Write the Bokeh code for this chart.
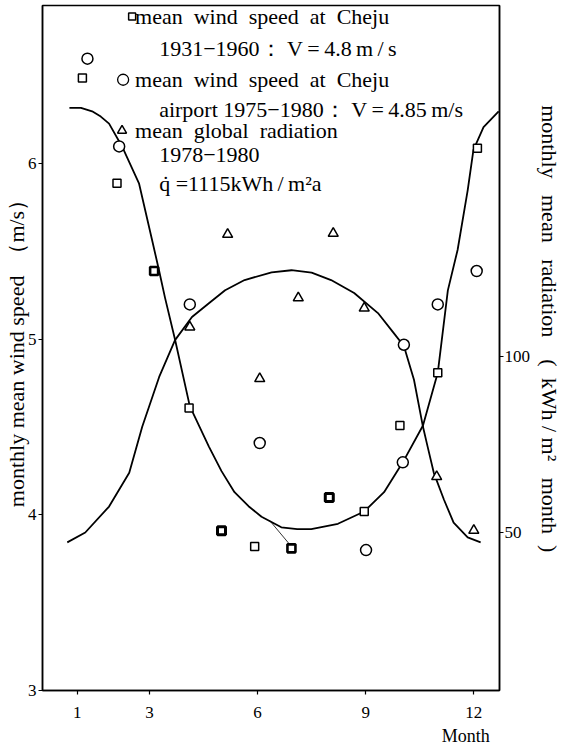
from bokeh.plotting import figure
from bokeh.models import Range1d, LinearAxis, FixedTicker
from bokeh.embed import file_html
from bokeh.resources import INLINE
from bokeh.models import Label

# ---- data ----
# mean wind speed at Cheju 1931-1960 (squares)
sq_month = [1.14, 2.1, 3.13, 4.1, 5.0, 5.92, 6.94, 7.99, 8.96, 9.95, 11.0, 12.1]
sq_wind = [6.49, 5.89, 5.39, 4.61, 3.91, 3.82, 3.81, 4.10, 4.02, 4.51, 4.81, 6.09]
sq_bold = [1.5, 1.5, 2.6, 1.5, 3.0, 1.5, 2.6, 3.0, 1.5, 1.5, 1.5, 1.5]

# mean wind speed at Cheju airport 1975-1980 (circles)
ci_month = [1.28, 2.16, 4.12, 6.06, 9.01, 10.06, 10.03, 11.0, 12.08]
ci_wind = [6.60, 6.10, 5.20, 4.41, 3.80, 4.97, 4.30, 5.20, 5.39]

# mean global radiation 1978-1980 (triangles, right axis)
tr_month = [4.12, 5.17, 6.06, 7.13, 8.1, 8.96, 10.97, 12.0]
tr_rad = [108.5, 134.9, 93.8, 116.8, 135.2, 113.9, 65.9, 50.6]

# fitted wind-speed curve
wc_month = [0.78, 1.1, 1.41, 1.65, 1.88, 2.24, 2.71, 3.07, 3.27, 3.43, 3.71, 4.12, 4.65,
            5.0, 5.36, 5.75, 6.11, 6.66, 7.1, 7.49, 8.23, 8.96, 9.51, 10.03, 10.59,
            11.0, 11.28, 11.55, 11.83, 11.99, 12.27, 12.69]
wc_wind = [6.32, 6.32, 6.30, 6.27, 6.23, 6.10, 5.89, 5.57, 5.39, 5.24, 5.00, 4.62, 4.39,
           4.25, 4.13, 4.05, 3.99, 3.93, 3.92, 3.92, 3.95, 4.02, 4.13, 4.30, 4.51,
           4.81, 5.28, 5.51, 5.85, 6.08, 6.21, 6.30]

# fitted radiation curve (right axis)
rc_month = [0.72, 1.22, 1.88, 2.44, 2.80, 3.27, 3.71, 4.18, 4.65, 5.1, 5.64, 6.39, 6.94,
            7.5, 8.04, 8.68, 9.34, 9.78, 10.06, 10.34, 10.59, 10.72, 10.89, 11.17, 11.44,
            11.83, 12.19]
rc_rad = [47.2, 50.0, 57.4, 67.0, 80.1, 94.3, 104.8, 111.4, 115.3, 119.0, 121.9, 124.1, 124.7,
          124.0, 121.9, 118.2, 112.5, 106.8, 103.1, 93.5, 80.1, 74.4, 67.0, 59.4, 52.8,
          48.6, 47.2]

# leader stroke from the curve to the July square
lead_month = [6.33, 6.86]
lead_wind = [3.97, 3.84]

x_ticks = [1, 3, 6, 9, 12]
left_ticks = [3, 4, 5, 6]
right_ticks = [50, 100]
x_title_pos = 11.78
x_title = "Month"

SERIF = "Liberation Serif"
NB = "\u00a0"
TH = "\u2009"

p = figure(width=565, height=748, x_range=Range1d(0.033, 12.713), y_range=Range1d(3, 6.903),
           output_backend="svg", toolbar_location=None,
           min_border_left=32, min_border_right=63, min_border_top=5, min_border_bottom=56)
p.extra_y_ranges = {"rad": Range1d(5, 200.1)}
p.xgrid.visible = False
p.ygrid.visible = False
p.outline_line_color = "black"
p.outline_line_width = 1.5
p.background_fill_color = "white"
p.border_fill_color = "white"

rax = LinearAxis(y_range_name="rad", ticker=FixedTicker(ticks=right_ticks))
p.add_layout(rax, "right")

# axes styling
for ax in (p.xaxis[0], p.yaxis[0], rax):
    ax.axis_line_width = 1.5
    ax.axis_line_color = "black"
    ax.major_tick_line_width = 1.2
    ax.major_tick_line_color = "black"
    ax.major_tick_in = 0
    ax.major_tick_out = 4
    ax.minor_tick_line_color = None
    ax.major_label_text_font = SERIF
    ax.major_label_text_font_size = "17px"
    ax.major_label_text_color = "black"
    ax.axis_label_text_font = SERIF
    ax.axis_label_text_font_style = "normal"
    ax.axis_label_text_color = "black"
    ax.axis_label_text_font_size = "22px"

p.xaxis[0].ticker = FixedTicker(ticks=x_ticks)
p.xaxis[0].major_label_standoff = 12
p.yaxis[0].ticker = FixedTicker(ticks=left_ticks)
p.yaxis[0].major_label_standoff = 2
p.yaxis[0].axis_label = ("monthly" + NB + "mean" + NB + "wind" + NB + "speed"
                         + NB * 2 + "（m/s）")
p.yaxis[0].axis_label_standoff = -4

rax.major_label_standoff = 1
rax.axis_label = ("monthly" + NB * 3 + "mean" + NB * 3 + "radiation" + NB * 4 + "(" + NB * 2 + "kWh"
                  + NB + "/" + NB + "m²" + NB * 3 + "month" + NB * 2 + ")" + NB * 7)
rax.axis_label_standoff = 4

# second axis below carrying the "Month" caption under the 12 tick
max_ = LinearAxis(ticker=FixedTicker(ticks=[x_title_pos]),
                  major_label_overrides={x_title_pos: x_title})
max_.axis_line_color = None
max_.major_tick_line_color = None
max_.minor_tick_line_color = None
max_.major_tick_in = 0
max_.major_tick_out = 0
max_.major_label_standoff = 5
max_.major_label_text_font = SERIF
max_.major_label_text_font_size = "18px"
max_.major_label_text_color = "black"
p.add_layout(max_, "below")

# curves
p.line(wc_month, wc_wind, line_color="black", line_width=1.8)
p.line(rc_month, rc_rad, line_color="black", line_width=1.8, y_range_name="rad")
p.line(lead_month, lead_wind, line_color="black", line_width=0.8)

# markers
p.scatter(sq_month, sq_wind, marker="square", size=8, fill_color="white",
          line_color="black", line_width=sq_bold)
p.scatter(ci_month, ci_wind, marker="circle", size=11, fill_color="white",
          line_color="black", line_width=1.5)
p.scatter(tr_month, tr_rad, marker="triangle", size=10, fill_color="white",
          line_color="black", line_width=1.5, y_range_name="rad")

# in-plot legend
p.scatter([2.52], [6.84], marker="square", size=7, fill_color="white", line_color="black", line_width=1.5)
p.scatter([2.27], [6.48], marker="circle", size=11, fill_color="white", line_color="black", line_width=1.3)
p.scatter([2.24], [6.19], marker="triangle", size=9, fill_color="white", line_color="black", line_width=1.5)

legend_lines = [
    (2.60, 6.84, "mean" + NB * 2 + "wind" + NB * 2 + "speed" + NB * 2 + "at" + NB * 2 + "Cheju"),
    (3.27, 6.66, "1931−1960：" + NB + "V" + TH + "=" + TH + "4.8" + TH + "m" + TH + "/" + TH + "s"),
    (2.60, 6.48, "mean" + NB * 2 + "wind" + NB * 2 + "speed" + NB * 2 + "at" + NB * 2 + "Cheju"),
    (3.27, 6.31, "airport" + NB + "1975−1980：" + NB + "V" + TH + "=" + TH + "4.85" + TH + "m/s"),
    (2.60, 6.19, "mean" + NB * 2 + "global" + NB * 2 + "radiation"),
    (3.27, 6.05, "1978−1980"),
    (3.27, 5.89, "q\u0307" + NB + "=1115kWh" + TH + "/" + TH + "m²a"),
]
for lx, ly, txt in legend_lines:
    p.add_layout(Label(x=lx, y=ly, text=txt, text_font=SERIF, text_font_size="22px",
                       text_baseline="middle", text_align="left", text_color="black"))

open("out.html", "w").write(file_html(p, INLINE))
